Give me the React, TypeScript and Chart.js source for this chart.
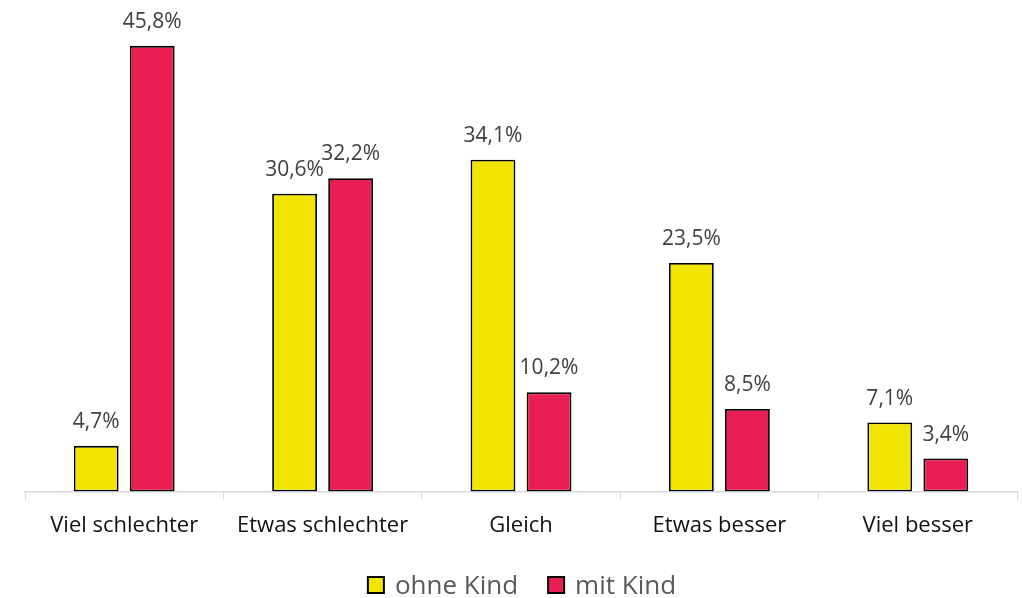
import React, { useEffect, useRef } from "react";
import { Chart, registerables } from "chart.js";

Chart.register(...registerables);

const categories = ["Viel schlechter", "Etwas schlechter", "Gleich", "Etwas besser", "Viel besser"];
const ohneKind = [4.7, 30.6, 34.1, 23.5, 7.1];
const mitKind = [45.8, 32.2, 10.2, 8.5, 3.4];
const seriesNames = ["ohne Kind", "mit Kind"];

const FONT = "'Open Sans', 'Noto Sans', sans-serif";

const labelPlugin = {
  id: "barLabels",
  afterDatasetsDraw(chart: any) {
    const ctx = chart.ctx;
    ctx.save();
    ctx.font = `21px ${FONT}`;
    ctx.fillStyle = "#404040";
    ctx.textAlign = "center";
    ctx.textBaseline = "alphabetic";
    chart.data.datasets.forEach((ds: any, i: number) => {
      const meta = chart.getDatasetMeta(i);
      meta.data.forEach((bar: any, j: number) => {
        const v = ds.data[j] as number;
        const txt = v.toFixed(1).replace(".", ",") + "%";
        ctx.fillText(txt, bar.x, bar.y - 18);
      });
    });
    ctx.restore();
  },
};

const legendPlugin = {
  id: "customLegend",
  afterDraw(chart: any) {
    const ctx = chart.ctx;
    const area = chart.chartArea;
    ctx.save();
    ctx.font = `26px ${FONT}`;
    ctx.textBaseline = "alphabetic";
    ctx.textAlign = "left";
    const box = 16;
    const gap = 11;
    const itemGap = 30;
    const ds = chart.data.datasets;
    const widths = ds.map((d: any) => box + gap + ctx.measureText(d.label).width);
    const total = widths.reduce((a: number, b: number) => a + b, 0) + itemGap * (ds.length - 1);
    let x = (area.left + area.right) / 2 + 1 - total / 2;
    const baseline = 594;
    ds.forEach((d: any, i: number) => {
      ctx.fillStyle = d.backgroundColor;
      ctx.fillRect(x, baseline - 17, box, box);
      ctx.strokeStyle = "#000";
      ctx.lineWidth = 2;
      ctx.strokeRect(x, baseline - 17, box, box);
      ctx.fillStyle = "#595959";
      ctx.fillText(d.label, x + box + gap, baseline);
      x += widths[i] + itemGap;
    });
    ctx.restore();
  },
};

export default function App() {
  const ref = useRef<HTMLCanvasElement>(null);
  useEffect(() => {
    document.body.style.margin = "0";
    const chart = new Chart(ref.current!, {
      type: "bar",
      data: {
        labels: categories,
        datasets: [
          {
            label: seriesNames[0],
            data: ohneKind,
            backgroundColor: "#F2E600",
            borderColor: "#000000",
            borderWidth: 1.8,
            borderSkipped: false,
          },
          {
            label: seriesNames[1],
            data: mitKind,
            backgroundColor: "#E91E52",
            borderColor: "#000000",
            borderWidth: 1.8,
            borderSkipped: false,
          },
        ],
      },
      options: {
        animation: false,
        responsive: false,
        layout: { padding: { left: 25, right: 5, top: 5, bottom: 46 } },
        datasets: { bar: { categoryPercentage: 0.565, barPercentage: 0.8 } },
        plugins: {
          tooltip: { enabled: false },
          legend: { display: false },
        },
        scales: {
          x: {
            grid: {
              drawOnChartArea: false,
              drawTicks: true,
              tickLength: 8,
              color: "#D9D9D9",
              offset: true,
            },
            border: { color: "#D9D9D9", width: 1.5 },
            ticks: {
              font: { family: FONT, size: 22 },
              color: "#111111",
              padding: 13,
              maxRotation: 0,
            },
          },
          y: {
            display: false,
            min: 0,
            max: 50,
          },
        },
      },
      plugins: [labelPlugin, legendPlugin],
    });
    return () => chart.destroy();
  }, []);
  return (
    <div style={{ position: "fixed", left: 0, top: 0, width: 1022, height: 598 }}>
      <canvas ref={ref} width={1022} height={598} />
    </div>
  );
}
